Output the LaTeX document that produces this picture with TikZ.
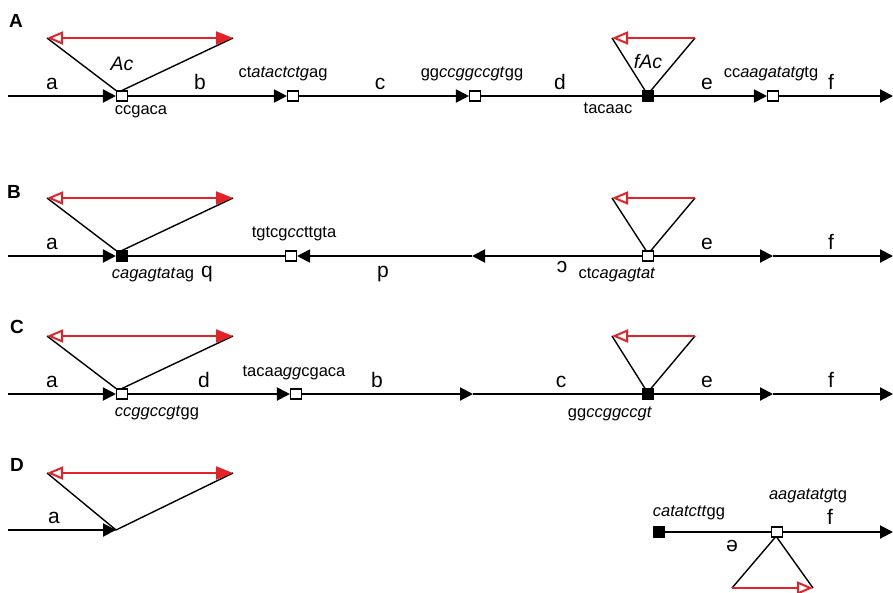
\documentclass[tikz,border=0pt]{standalone}
\usepackage{fontspec}
\setmainfont{Liberation Sans}
\usetikzlibrary{arrows.meta,calc}
\definecolor{redA}{RGB}{228,35,40}
\pgfdeclarelayer{bg}
\pgfsetlayers{bg,main}
\tikzset{
 mainline/.style={line width=2pt, draw=black},
 arrowend/.style={-{Triangle[length=13pt,width=13pt]}},
 triline/.style={line width=1.4pt, draw=black},
 redboth/.style={line width=2pt, draw=redA, {Triangle[open,length=16pt,width=13pt,fill=white]}-{Triangle[length=17pt,width=13pt]}},
 redleft/.style={line width=2pt, draw=redA, {Triangle[open,length=16pt,width=13pt,fill=white]}-},
 redright/.style={line width=2pt, draw=redA, -{Triangle[open,length=16pt,width=13pt,fill=white]}},
 obox/.style={draw, line width=1.1pt, fill=white, minimum width=11pt, minimum height=10pt, inner sep=0pt},
 fbox/.style={obox, fill=black},
 lbl/.style={font=\fontsize{21}{21}\selectfont, anchor=base, inner sep=0pt},
 rlbl/.style={font=\fontsize{21}{21}\selectfont, rotate=180, inner sep=0pt},
 seq/.style={font=\fontsize{16.5}{16.5}\selectfont, anchor=base, inner sep=0pt},
 plbl/.style={font=\bfseries\fontsize{19}{19}\selectfont, inner sep=0pt},
 tlbl/.style={font=\itshape\fontsize{19.5}{19.5}\selectfont, inner sep=0pt},
}
\begin{document}
\begin{tikzpicture}[x=1pt,y=-1pt]
\begin{pgfonlayer}{bg}
\fill[white] (0,0) rectangle (893,592);
\end{pgfonlayer}
\useasboundingbox (0,0) rectangle (893,592);

% ================= Panel A =================
\node[plbl] (pA) at (16,21) {A};
\coordinate (As) at (8,96);
\node[obox] (A1) at (122,96) {};
\node[obox] (A2) at (293,96) {};
\node[obox] (A3) at (475,96) {};
\node[fbox] (A4) at (648,96) {};
\node[obox] (A5) at (773,96) {};
\coordinate (Ae) at (893,96);
\coordinate (Atl) at (47,38);
\coordinate (Atr) at (233,38);
\coordinate (Aftl) at (612,38);
\coordinate (Aftr) at (695,38);
\begin{pgfonlayer}{bg}
\draw[mainline,arrowend] (As) -- (A1.west);
\draw[mainline,arrowend] (A1.east) -- (A2.west);
\draw[mainline,arrowend] (A2.east) -- (A3.west);
\draw[mainline] (A3.east) -- (A4.west);
\draw[mainline,arrowend] (A4.east) -- (A5.west);
\draw[mainline,arrowend] (A5.east) -- (Ae);
\draw[triline] (Atl) -- (A1.north west);
\draw[triline] (Atr) -- (A1.north);
\draw[triline] (Aftl) -- ($(A4.north)+(-3,0)$);
\draw[triline] (Aftr) -- ($(A4.north)+(3,0)$);
\end{pgfonlayer}
\draw[redboth] (Atl) -- (Atr);
\draw[redleft] (Aftl) -- (Aftr);
\node[lbl] (Aa) at (52,89) {a};
\node[tlbl] (Aac) at (122,64) {Ac};
\node[lbl] (Ab) at (200,89) {b};
\node[seq] (As1) at (283,77) {ct\textit{atactctg}ag};
\node[lbl] (Ac) at (380,89) {c};
\node[seq] (As2) at (472,77) {gg\textit{ccggccgt}gg};
\node[lbl] (Ad) at (560,89) {d};
\node[tlbl] (Afac) at (648,62) {fAc};
\node[seq] (As3) at (141,114) {ccgaca};
\node[seq] (As4) at (608,113) {tacaac};
\node[lbl] (Ae1) at (707,89) {e};
\node[seq] (As5) at (771,77) {cc\textit{aagatatg}tg};
\node[lbl] (Af) at (831,89) {f};

% ================= Panel B =================
\node[plbl] (pB) at (14,192) {B};
\coordinate (Bs) at (8,256);
\node[fbox] (B1) at (122,256) {};
\node[obox] (B2) at (291,256) {};
\coordinate (Bp) at (472,256);
\node[obox] (B3) at (648,256) {};
\coordinate (Bq) at (773,256);
\coordinate (Be) at (893,256);
\coordinate (Btl) at (47,198);
\coordinate (Btr) at (233,198);
\coordinate (Bftl) at (612,198);
\coordinate (Bftr) at (695,198);
\begin{pgfonlayer}{bg}
\draw[mainline,arrowend] (Bs) -- (B1.west);
\draw[mainline] (B1.east) -- (B2.west);
\draw[mainline,arrowend] (Bp) -- (B2.east);
\draw[mainline,arrowend] (B3.west) -- (Bp);
\draw[mainline,arrowend] (B3.east) -- (Bq);
\draw[mainline,arrowend] (Bq) -- (Be);
\draw[triline] (Btl) -- (B1.north west);
\draw[triline] (Btr) -- (B1.north);
\draw[triline] (Bftl) -- ($(B3.north)+(-2,0)$);
\draw[triline] (Bftr) -- ($(B3.north)+(3,0)$);
\end{pgfonlayer}
\draw[redboth] (Btl) -- (Btr);
\draw[redleft] (Bftl) -- (Bftr);
\node[lbl] (Ba) at (52,249) {a};
\node[seq] (Bs1) at (153,278) {\textit{cagagtat}ag};
\node[lbl] (Bqq) at (207,277) {q};
\node[seq] (Bs2) at (294,237) {tgtcg\textit{cc}ttgta};
\node[lbl] (Bpp) at (383,277) {p};
\node[rlbl] (Bc) at (562,267) {c};
\node[seq] (Bs3) at (617,278) {ct\textit{cagagtat}};
\node[lbl] (Be1) at (707,249) {e};
\node[lbl] (Bf) at (831,249) {f};

% ================= Panel C =================
\node[plbl] (pC) at (17,327) {C};
\coordinate (Cs) at (8,394);
\node[obox] (C1) at (122,394) {};
\node[obox] (C2) at (296,394) {};
\coordinate (Cp) at (473,394);
\node[fbox] (C3) at (648,394) {};
\coordinate (Cq) at (773,394);
\coordinate (Ce) at (893,394);
\coordinate (Ctl) at (47,336);
\coordinate (Ctr) at (233,336);
\coordinate (Cftl) at (612,336);
\coordinate (Cftr) at (695,336);
\begin{pgfonlayer}{bg}
\draw[mainline,arrowend] (Cs) -- (C1.west);
\draw[mainline,arrowend] (C1.east) -- (C2.west);
\draw[mainline,arrowend] (C2.east) -- (Cp);
\draw[mainline] (Cp) -- (C3.west);
\draw[mainline,arrowend] (C3.east) -- (Cq);
\draw[mainline,arrowend] (Cq) -- (Ce);
\draw[triline] (Ctl) -- (C1.north west);
\draw[triline] (Ctr) -- (C1.north);
\draw[triline] (Cftl) -- ($(C3.north)+(-3,0)$);
\draw[triline] (Cftr) -- ($(C3.north)+(3,0)$);
\end{pgfonlayer}
\draw[redboth] (Ctl) -- (Ctr);
\draw[redleft] (Cftl) -- (Cftr);
\node[lbl] (Ca) at (52,387) {a};
\node[seq] (Cs1) at (157,416) {\textit{ccggccgt}gg};
\node[lbl] (Cd) at (204,387) {d};
\node[seq] (Cs2) at (294,376) {tacaa\textit{gg}cgaca};
\node[lbl] (Cb) at (377,387) {b};
\node[lbl] (Cc) at (561,387) {c};
\node[seq] (Cs3) at (610,417) {gg\textit{ccggccgt}};
\node[lbl] (Ce1) at (707,387) {e};
\node[lbl] (Cf) at (831,387) {f};

% ================= Panel D =================
\node[plbl] (pD) at (17,465) {D};
\coordinate (Ds) at (8,530);
\coordinate (Dv) at (116,530);
\coordinate (Dtl) at (47,473);
\coordinate (Dtr) at (233,473);
\node[fbox] (D1) at (659,532) {};
\node[obox] (D2) at (777,532) {};
\coordinate (De) at (893,532);
\coordinate (Dbl) at (732,588);
\coordinate (Dbr) at (813,588);
\begin{pgfonlayer}{bg}
\draw[mainline,arrowend] (Ds) -- (Dv);
\draw[triline] (Dtl) -- (Dv);
\draw[triline] (Dv) -- (Dtr);
\draw[mainline] (D1.east) -- (D2.west);
\draw[mainline,arrowend] (D2.east) -- (De);
\draw[triline] (Dbl) -- ($(D2.south)+(-2,0)$);
\draw[triline] (Dbr) -- ($(D2.south)+(0,0)$);
\end{pgfonlayer}
\draw[redboth] (Dtl) -- (Dtr);
\draw[redright] (Dbl) -- (Dbr);
\node[lbl] (Da) at (54,523) {a};
\node[seq] (Ds1) at (689,516) {\textit{catatctt}gg};
\node[seq] (Ds2) at (808,499) {\textit{aagatatg}tg};
\node[lbl] (Df) at (830,524) {f};
\node[rlbl] (De1) at (732,546) {e};
\end{tikzpicture}
\end{document}
